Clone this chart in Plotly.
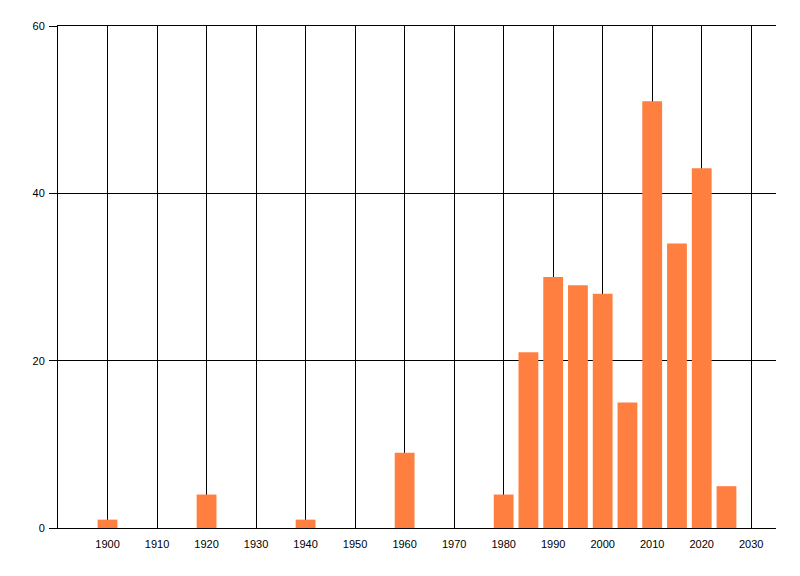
import plotly.graph_objects as go

years = [1900, 1920, 1940, 1960, 1980, 1985, 1990, 1995, 2000, 2005, 2010, 2015, 2020, 2025]
counts = [1, 4, 1, 9, 4, 21, 30, 29, 28, 15, 51, 34, 43, 5]
x_grid = list(range(1890, 2031, 10))
x_labels = [""] + [str(v) for v in range(1900, 2031, 10)]
y_ticks = [0, 20, 40, 60]

fig = go.Figure(go.Bar(x=years, y=counts, width=4, marker=dict(color="#FF7F40", line=dict(width=0))))

fig.update_layout(
    width=800, height=576,
    margin=dict(l=50, r=32, t=18, b=56, autoexpand=False),
    paper_bgcolor="white", plot_bgcolor="white",
    font=dict(family="Liberation Sans", size=11, color="black"),
    showlegend=False,
    xaxis=dict(range=[1890, 2035], tickvals=x_grid, ticktext=x_labels, showgrid=True,
               gridcolor="black", gridwidth=1, automargin=False,
               ticks="", showline=True, linecolor="black", linewidth=1, mirror=True,
               zeroline=False, ticklabelstandoff=6),
    yaxis=dict(range=[0, 60], tickvals=y_ticks, showgrid=True, gridcolor="black", gridwidth=1,
               automargin=False, ticks="outside", ticklen=8, tickcolor="black",
               showline=True, linecolor="black", linewidth=1, zeroline=False,
               ticklabelstandoff=2),
)
fig.write_html("out.html")
